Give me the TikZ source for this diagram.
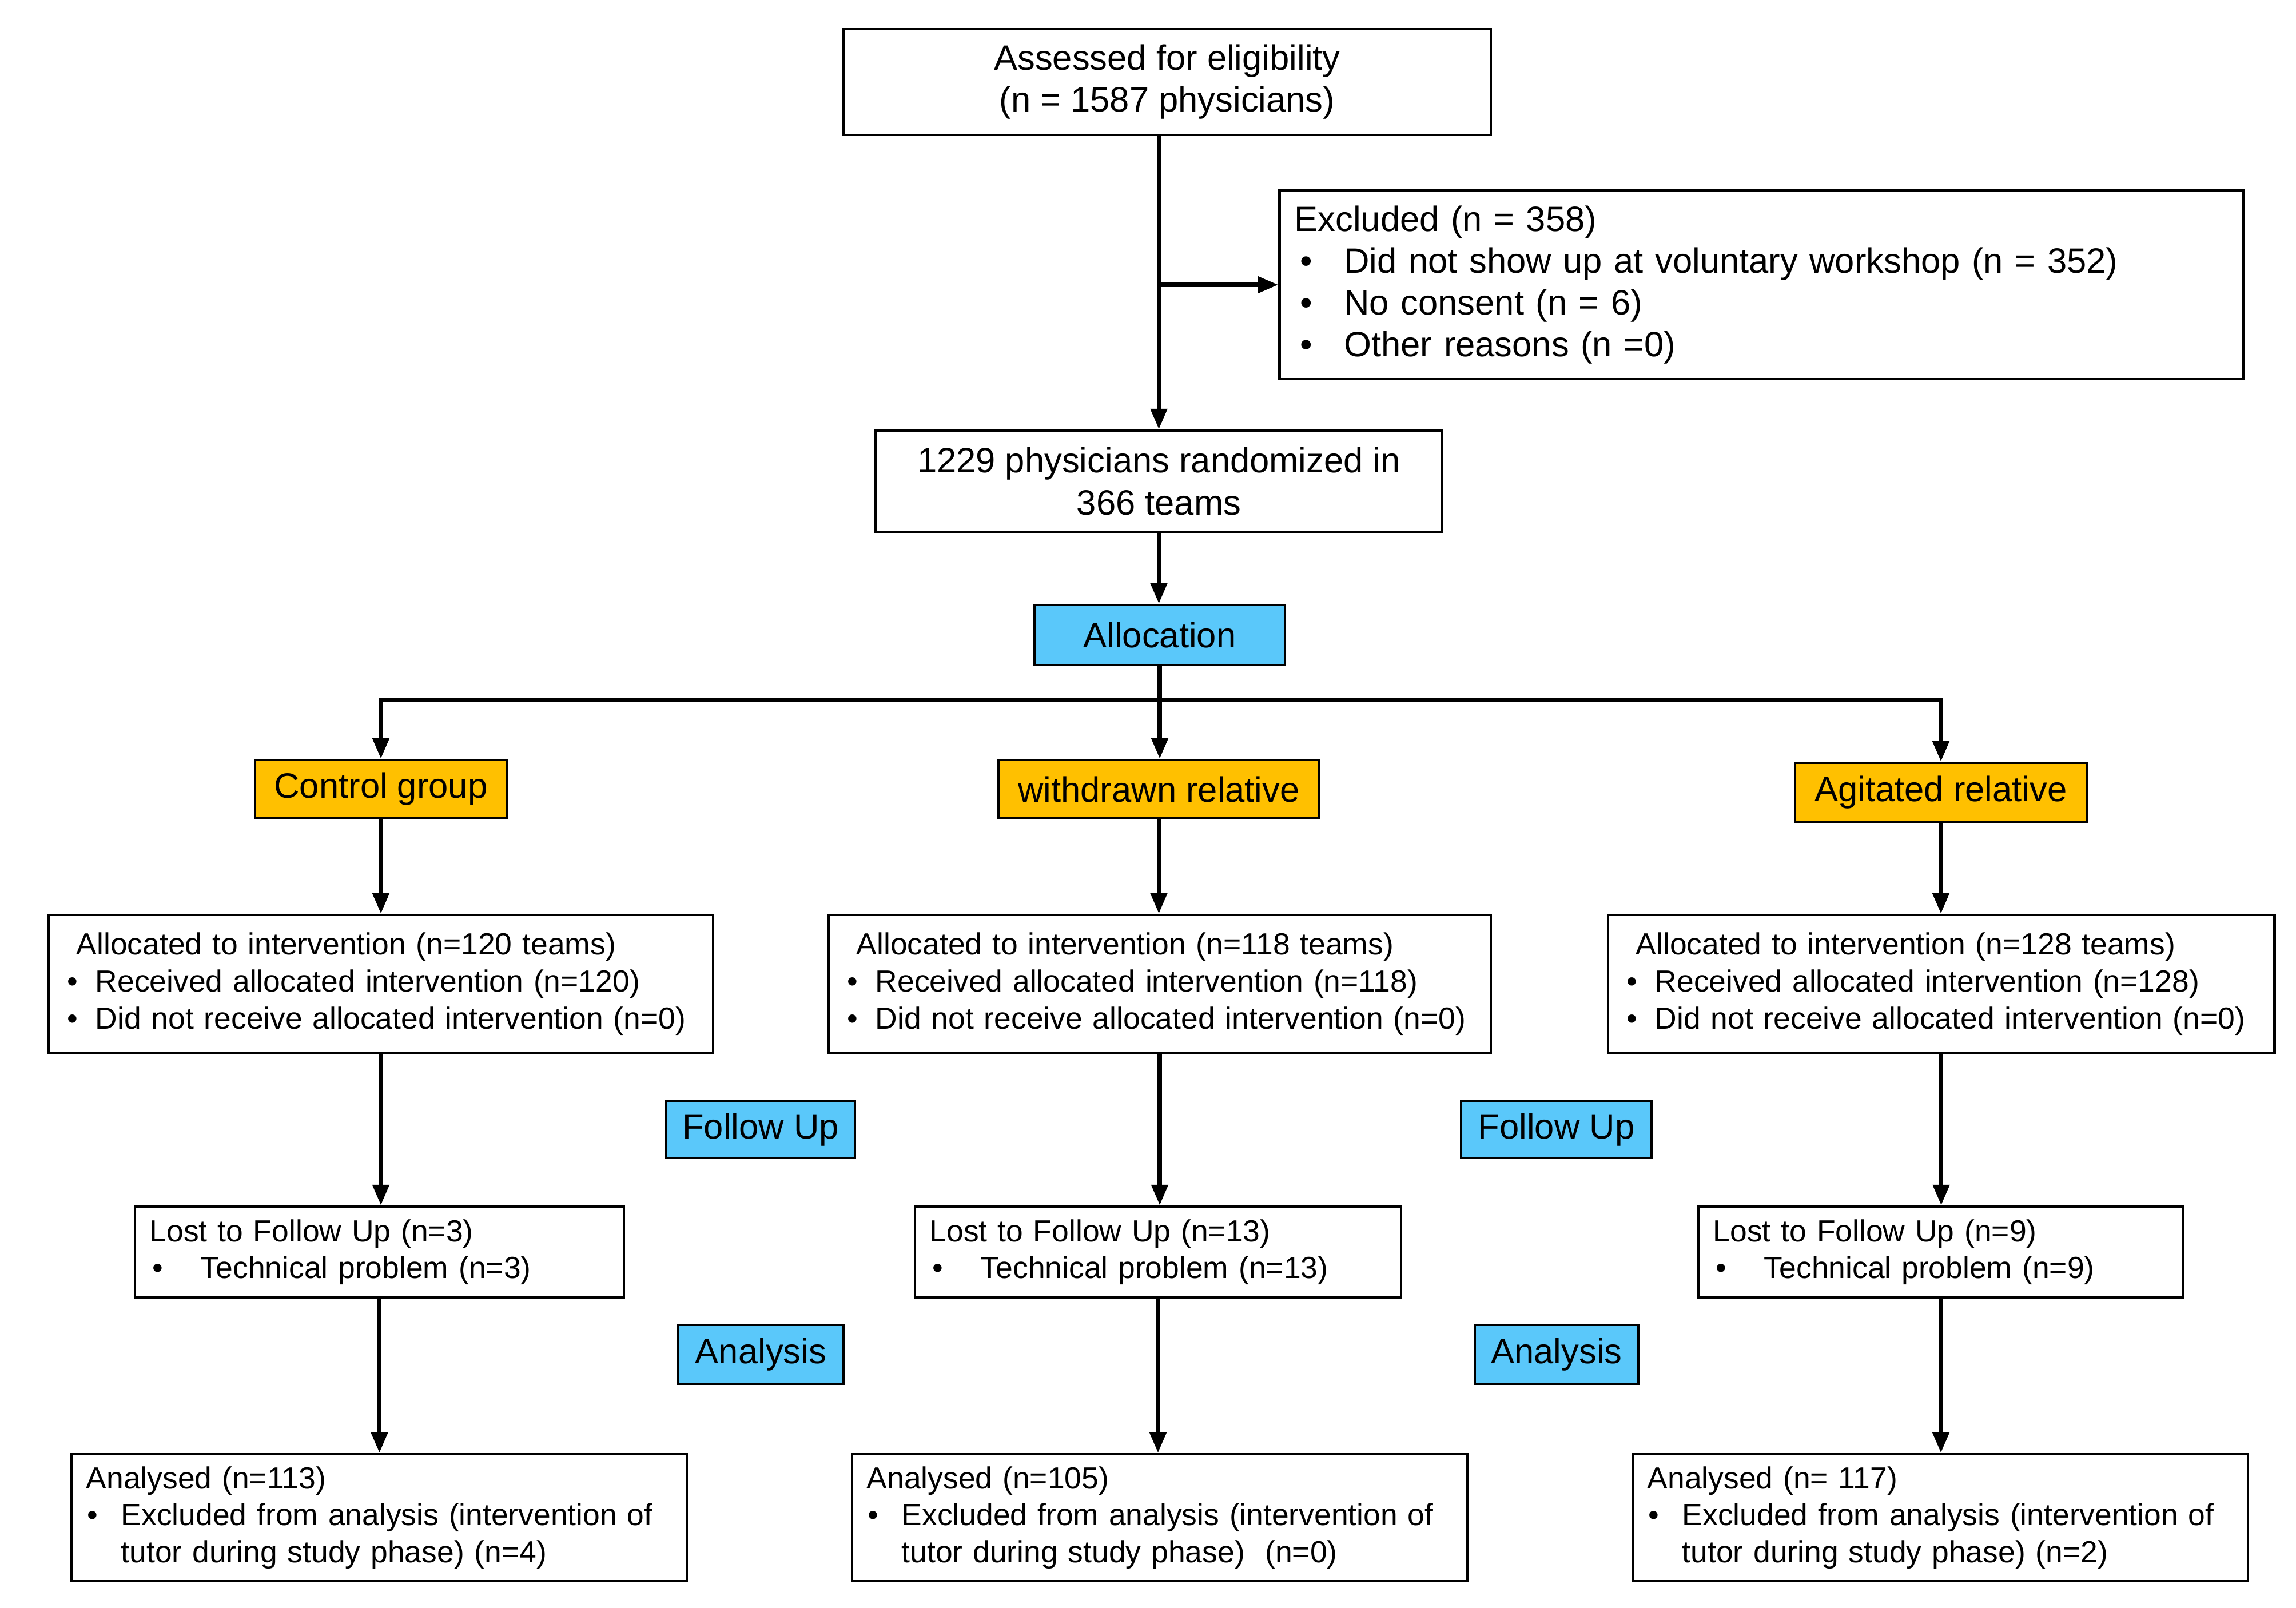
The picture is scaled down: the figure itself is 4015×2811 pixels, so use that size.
\documentclass[tikz,border=0pt]{standalone}
\usepackage{fontspec}
\setmainfont{Liberation Sans}
\usetikzlibrary{arrows.meta}
\definecolor{grouporange}{RGB}{255,192,0}
\definecolor{phaseblue}{RGB}{90,200,250}
\tikzset{
  box/.style={draw, line width=1.2pt, inner sep=0pt},
  bigtext/.style={font=\fontsize{17.5}{20.8}\selectfont},
  smalltext/.style={font=\fontsize{15.2}{18.4}\selectfont},
  centrebox/.style={box, bigtext, align=center},
  listbox/.style={box, align=left, inner xsep=0.26cm},
  groupbox/.style={box, bigtext, fill=grouporange},
  phasebox/.style={box, bigtext, fill=phaseblue},
  flow/.style={line width=2.2pt, -{Triangle[length=0.36cm,width=0.28cm]}},
  plain/.style={line width=2.2pt}
}
\newcommand{\bul}[1]{\makebox[#1][l]{\textbullet}}
\begin{document}
\begin{tikzpicture}[x=0.01cm,y=-0.01cm]
\useasboundingbox (0,0) rectangle (4015,2811);
\node[centrebox, minimum width=11.32cm, minimum height=1.85cm] (assess) at (2041,143.5)
  {Assessed for eligibility\\(n = 1587 physicians)};
\node[listbox, bigtext, text width=16.33cm, minimum height=3.30cm] (excl) at (3080.5,498)
  {Excluded (n = 358)\\
   \hspace*{0.1cm}\bul{0.77cm}Did not show up at voluntary workshop (n = 352)\\
   \hspace*{0.1cm}\bul{0.77cm}No consent (n = 6)\\
   \hspace*{0.1cm}\bul{0.77cm}Other reasons (n =0)};
\node[centrebox, minimum width=9.91cm, minimum height=1.77cm] (rand) at (2026.5,841.5)
  {1229 physicians randomized in\\366 teams};
\node[phasebox, minimum width=4.38cm, minimum height=1.05cm] (alloc) at (2028,1110.5) {Allocation};

\node[groupbox, minimum width=4.40cm, minimum height=1.02cm] (ctrl) at (666,1380) {Control group};
\node[groupbox, minimum width=5.61cm, minimum height=1.02cm] (wdr) at (2026.5,1380) {withdrawn relative};
\node[groupbox, minimum width=5.10cm, minimum height=1.03cm] (agit) at (3394,1385.5) {Agitated relative};

\node[listbox, smalltext, inner xsep=0.33cm, text width=10.96cm, minimum height=2.41cm] (intL) at (666,1720.5)
  {\hspace*{0.16cm}Allocated to intervention (n=120 teams)\\
   \bul{0.49cm}Received allocated intervention (n=120)\\
   \bul{0.49cm}Did not receive allocated intervention (n=0)};
\node[listbox, smalltext, inner xsep=0.33cm, text width=10.92cm, minimum height=2.41cm] (intM) at (2028,1720.5)
  {\hspace*{0.16cm}Allocated to intervention (n=118 teams)\\
   \bul{0.49cm}Received allocated intervention (n=118)\\
   \bul{0.49cm}Did not receive allocated intervention (n=0)};
\node[listbox, smalltext, inner xsep=0.33cm, text width=10.99cm, minimum height=2.41cm] (intR) at (3394.5,1720.5)
  {\hspace*{0.16cm}Allocated to intervention (n=128 teams)\\
   \bul{0.49cm}Received allocated intervention (n=128)\\
   \bul{0.49cm}Did not receive allocated intervention (n=0)};

\node[phasebox, minimum width=3.30cm, minimum height=0.99cm] (fuL) at (1330,1975.5) {Follow Up};
\node[phasebox, minimum width=3.33cm, minimum height=0.99cm] (fuR) at (2721.5,1975.5) {Follow Up};

\node[listbox, smalltext, text width=8.03cm, minimum height=1.59cm] (lostL) at (663.5,2189.5)
  {Lost to Follow Up (n=3)\\
   \hspace*{0.05cm}\bul{0.84cm}Technical problem (n=3)};
\node[listbox, smalltext, text width=7.98cm, minimum height=1.59cm] (lostM) at (2025,2189.5)
  {Lost to Follow Up (n=13)\\
   \hspace*{0.05cm}\bul{0.84cm}Technical problem (n=13)};
\node[listbox, smalltext, text width=7.96cm, minimum height=1.59cm] (lostR) at (3394,2189.5)
  {Lost to Follow Up (n=9)\\
   \hspace*{0.05cm}\bul{0.84cm}Technical problem (n=9)};

\node[phasebox, minimum width=2.89cm, minimum height=1.03cm] (anL) at (1330.5,2368.5) {Analysis};
\node[phasebox, minimum width=2.86cm, minimum height=1.03cm] (anR) at (2722,2368.5) {Analysis};

\node[listbox, smalltext, text width=10.24cm, minimum height=2.22cm] (resL) at (663,2654)
  {Analysed (n=113)\\
   \hspace*{0.02cm}\bul{0.59cm}Excluded from analysis (intervention of\\
   \hspace*{0.61cm}tutor during study phase) (n=4)};
\node[listbox, smalltext, text width=10.24cm, minimum height=2.22cm] (resM) at (2028,2654)
  {Analysed (n=105)\\
   \hspace*{0.02cm}\bul{0.59cm}Excluded from analysis (intervention of\\
   \hspace*{0.61cm}tutor during study phase)\ \ (n=0)};
\node[listbox, smalltext, text width=10.24cm, minimum height=2.22cm] (resR) at (3393,2654)
  {Analysed (n= 117)\\
   \hspace*{0.02cm}\bul{0.59cm}Excluded from analysis (intervention of\\
   \hspace*{0.61cm}tutor during study phase) (n=2)};

\coordinate (top) at (assess.south -| rand.north);
\coordinate (branch) at (excl.west -| rand.north);
\coordinate (split) at (2028,1224);
\draw[flow] (top) -- (rand.north);
\draw[flow] (branch) -- (excl.west);
\draw[flow] (rand.south) -- (rand.south |- alloc.north);
\draw[plain] (alloc.south) -- (split);
\draw[flow] (split) -| (ctrl.north);
\draw[flow] (split) -| (agit.north);
\draw[flow] (split) -- (split |- wdr.north);
\draw[flow] (ctrl.south) -- (ctrl.south |- intL.north);
\draw[flow] (wdr.south) -- (wdr.south |- intM.north);
\draw[flow] (agit.south) -- (agit.south |- intR.north);
\draw[flow] (intL.south) -- (intL.south |- lostL.north);
\draw[flow] (intM.south) -- (intM.south |- lostM.north);
\draw[flow] (intR.south) -- (intR.south |- lostR.north);
\draw[flow] (lostL.south) -- (lostL.south |- resL.north);
\draw[flow] (lostM.south) -- (lostM.south |- resM.north);
\draw[flow] (lostR.south) -- (lostR.south |- resR.north);
\end{tikzpicture}
\end{document}
